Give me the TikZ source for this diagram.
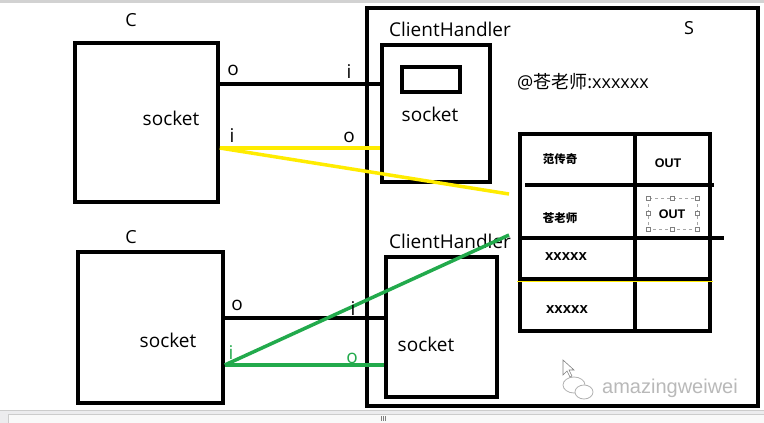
\documentclass[tikz,border=0pt]{standalone}
\usepackage{fontspec}
\usepackage{tikz}
\setmainfont{Open Sans}
\newfontfamily\cjk{Noto Sans CJK SC}
\newfontfamily\arialfont{Liberation Sans}
\definecolor{yline}{RGB}{255,236,0}
\definecolor{gline}{RGB}{34,170,76}
\definecolor{barc}{RGB}{236,236,238}
\tikzstyle{box} = [rectangle, draw=black, line width=3.5pt, inner sep=0pt]
\tikzstyle{lbl} = [inner sep=0pt, font=\fontsize{19}{22}\selectfont]
\tikzstyle{small} = [inner sep=0pt, font=\fontsize{18}{21}\selectfont]
\tikzstyle{cell} = [inner sep=0pt, font=\arialfont\bfseries\fontsize{12.5}{14}\selectfont]
\tikzstyle{wire} = [line width=3.5pt]
\tikzstyle{ywire} = [line width=3.5pt, draw=yline]
\tikzstyle{gwire} = [line width=3.5pt, draw=gline]

\begin{document}
\begin{tikzpicture}[x=1pt, y=-1pt]
\useasboundingbox (0,0) rectangle (764,423);
\fill [white] (0,0) rectangle (764,423);
\fill [gray!35] (0,0) rectangle (764,3);

	% clients
	\node (c1) [box, minimum width=143pt, minimum height=159pt] at (146.5,122.5) {};
	\node (c2) [box, minimum width=145pt, minimum height=151pt] at (150.5,327.5) {};
	\node (c1name) [small] at (131,20) {C};
	\node (c2name) [small] at (131,237) {C};
	\node (c1sock) [lbl] at (171,118) {socket};
	\node (c2sock) [lbl] at (168,340) {socket};

	% server
	\node (srv) [box, line width=4.5pt, minimum width=391pt, minimum height=398pt] at (562.5,207) {};
	\node (srvname) [small] at (689,28) {S};
	\node (h1name) [lbl] at (450,29) {ClientHandler};
	\node (h2name) [lbl] at (450,241) {ClientHandler};
	\node (h1) [box, minimum width=108pt, minimum height=137pt] at (436,113.5) {};
	\node (slot) [box, minimum width=58pt, minimum height=25pt] at (431,79.5) {};
	\node (h1sock) [lbl] at (430,114) {socket};
	\node (h2) [box, minimum width=111pt, minimum height=140pt] at (441.5,327) {};
	\node (h2sock) [lbl] at (426,344) {socket};
	\node (msg) [inner sep=0pt, font=\fontsize{18}{21}\selectfont] at (583,82) {@{\cjk 苍老师}:xxxxxx};

	% table
	\node (tbl) [box, minimum width=190pt, minimum height=197pt] at (615,232.5) {};
	\draw [line width=3.5pt] (635,134) -- (635,333);
	\draw [line width=3.5pt] (525,185) -- (714,185);
	\draw [line width=3.5pt] (520,238) -- (724,238);
	\draw [line width=3.5pt] (520,279) -- (710,279);
	\draw [yline, line width=1pt] (517,281.5) -- (713,281.5);
	\node (r1name) [cell, font=\cjk\bfseries\fontsize{11.5}{14}\selectfont] at (560,159) {范传奇};
	\node (r1out) [cell] at (668,163) {OUT};
	\node (r2name) [cell, font=\cjk\bfseries\fontsize{11.5}{14}\selectfont] at (560,218) {苍老师};
	\node (r2out) [cell] at (672,214) {OUT};
	\node (r3name) [cell, font=\arialfont\bfseries\fontsize{15}{17}\selectfont] at (566,257) {xxxxx};
	\node (r4name) [cell, font=\arialfont\bfseries\fontsize{15}{17}\selectfont] at (567,310) {xxxxx};
	\draw [gray!70, dashed, line width=0.6pt] (648,198) rectangle (697,229);
	\foreach \hx/\hy in {648/198,672.5/198,697/198,648/213.5,697/213.5,648/229,672.5/229,697/229}
		\draw [gray, fill=white, line width=0.5pt] (\hx-1.8,\hy-1.8) rectangle (\hx+1.8,\hy+1.8);

	% connectors
	\coordinate (yend) at (509,194);
	\coordinate (gend) at (509,235);
	\draw [wire] (c1.east |- 0,84) -- (h1.west |- 0,84);
	\draw [ywire] (c1.east |- 0,148) -- (h1.west |- 0,148);
	\draw [ywire] (c1.east |- 0,148) -- (yend);
	\draw [wire] (c2.east |- 0,318) -- (h2.west |- 0,318);
	\draw [gwire] (c2.east |- 0,365) -- (h2.west |- 0,365);
	\draw [gwire] (c2.east |- 0,365) -- (gend);
	\node (c1o) [lbl] at (233,70) {o};
	\node (c1i) [lbl] at (232,136) {i};
	\node (h1i) [lbl] at (349,72) {i};
	\node (h1o) [lbl] at (349,137) {o};
	\node (c2o) [lbl] at (237,305) {o};
	\node (h2i) [lbl] at (353,309) {i};
	\node (c2i) [lbl, text=gline] at (231,353) {i};
	\node (h2o) [lbl, text=gline] at (352,358) {o};

	% watermark and cursor
	\draw [gray!60, fill=white, line width=0.8pt] (574,385) ellipse [x radius=11pt, y radius=8pt];
	\draw [gray!60, fill=white, line width=0.8pt] (584,392) ellipse [x radius=9pt, y radius=7pt];
	\node (mark) [inner sep=0pt, text=gray!55, font=\arialfont\fontsize{20}{22}\selectfont] at (670,388) {amazingweiwei};
	\draw [gray, fill=white, line width=0.6pt] (563,360) -- (563,375) -- (567,371) -- (570,377) -- (572,376) -- (569,370) -- (574,370) -- cycle;

	% scroll bar
	\fill [barc] (0,410) rectangle (764,423);
	\draw [gray!40, line width=0.8pt] (0,410) -- (764,410);
	\draw [gray!40, fill=gray!5, line width=0.6pt] (8,414) rectangle (766,425);
	\foreach \gx in {381,383,385}
		\draw [gray, line width=0.5pt] (\gx,416) -- (\gx,421);
\end{tikzpicture}
\end{document}
